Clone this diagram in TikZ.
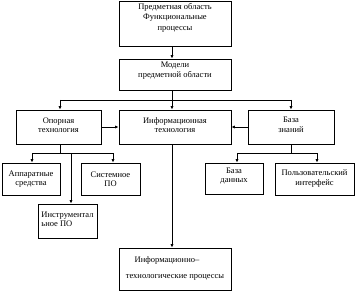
\documentclass[tikz,border=0pt]{standalone}
\usepackage{fontspec}
\setmainfont{Liberation Serif}
\usetikzlibrary{arrows.meta}
\begin{document}
\begin{tikzpicture}[x=1pt,y=-1pt,
  box/.style={draw, line width=0.8pt, inner sep=0pt, rectangle},
  txt/.style={font=\fontsize{8.5}{9.5}\selectfont, align=center, inner sep=0pt},
  ln/.style={line width=0.8pt},
  arr/.style={line width=0.8pt, -{Latex[length=3.5pt,width=3.2pt]}}]
\useasboundingbox (0,0) rectangle (355,291);
% boxes
\node[box, minimum width=112pt, minimum height=45pt] (top) at (175,23.5) {};
\node[box, minimum width=112pt, minimum height=31pt] (mod) at (175,74.5) {};
\node[box, minimum width=85pt, minimum height=34pt] (op) at (58.5,127) {};
\node[box, minimum width=112pt, minimum height=34pt] (it) at (175,127) {};
\node[box, minimum width=86pt, minimum height=34pt] (bz) at (291,127) {};
\node[box, minimum width=58pt, minimum height=32pt] (ap) at (31,179) {};
\node[box, minimum width=59pt, minimum height=32pt] (sp) at (110.5,179) {};
\node[box, minimum width=59pt, minimum height=34pt] (ip) at (67.5,221) {};
\node[box, minimum width=58pt, minimum height=31pt] (bd) at (234,178.5) {};
\node[box, minimum width=79pt, minimum height=32pt] (ui) at (314.5,179) {};
\node[box, minimum width=112pt, minimum height=42pt] (bot) at (175,269) {};
% texts
\node[txt, font=\fontsize{8.5}{10.5}\selectfont] (ttop) at (175,17.5) {Предметная область\\Функциональные\\процессы};
\node[txt] (tmod) at (175,70.5) {Модели\\предметной области};
\node[txt] (top2) at (58.5,125) {Опорная\\технология};
\node[txt] (tit) at (175,125) {Информационная\\технология};
\node[txt] (tbz) at (291,125) {База\\знаний};
\node[txt] (tap) at (31,179) {Аппаратные\\средства};
\node[txt] (tsp) at (110.5,179) {Системное\\ПО};
\node[txt, align=left] (tip) at (67.5,219.5) {Инструментал\\ьное ПО};
\node[txt] (tbd) at (234,176) {База\\данных};
\node[txt] (tui) at (314.5,178.5) {Пользовательский\\интерфейс};
\node[txt] (tb1) at (167,260.5) {Информационно–};
\node[txt] (tb2) at (175,277) {технологические процессы};
% connectors
\draw[arr] ([xshift=-3pt]top.south) -- ([xshift=-3pt]mod.north);
\coordinate (jt) at (172,100);
\coordinate (jl) at (60,100);
\coordinate (jr) at (291,100);
\draw[ln] ([xshift=-3pt]mod.south) -- (jt);
\draw[ln] (jl) -- (jr);
\draw[arr] (jl) -- (jl |- op.north);
\draw[arr] (jt) -- (jt |- it.north);
\draw[arr] (jr) -- (jr |- bz.north);
\draw[arr] (op.east) -- (it.west);
\draw[arr] (bz.west) -- (it.east);
% left branch
\coordinate (jo) at (60,153);
\coordinate (jo1) at (32,153);
\coordinate (jo2) at (113,153);
\coordinate (jo3) at (71,153);
\draw[ln] (jo |- op.south) -- (jo);
\draw[ln] (jo1) -- (jo2);
\draw[arr] (jo1) -- (jo1 |- ap.north);
\draw[arr] (jo2) -- (jo2 |- sp.north);
\draw[arr] (jo3) -- (jo3 |- ip.north);
% middle
\draw[arr] ([xshift=-3pt]it.south) -- ([xshift=-3pt]bot.north);
% right branch
\coordinate (jb) at (291,153);
\coordinate (jb1) at (237,153);
\coordinate (jb2) at (317,153);
\draw[ln] (jb |- bz.south) -- (jb);
\draw[ln] (jb1) -- (jb2);
\draw[arr] (jb1) -- (jb1 |- bd.north);
\draw[arr] (jb2) -- (jb2 |- ui.north);
\end{tikzpicture}
\end{document}
